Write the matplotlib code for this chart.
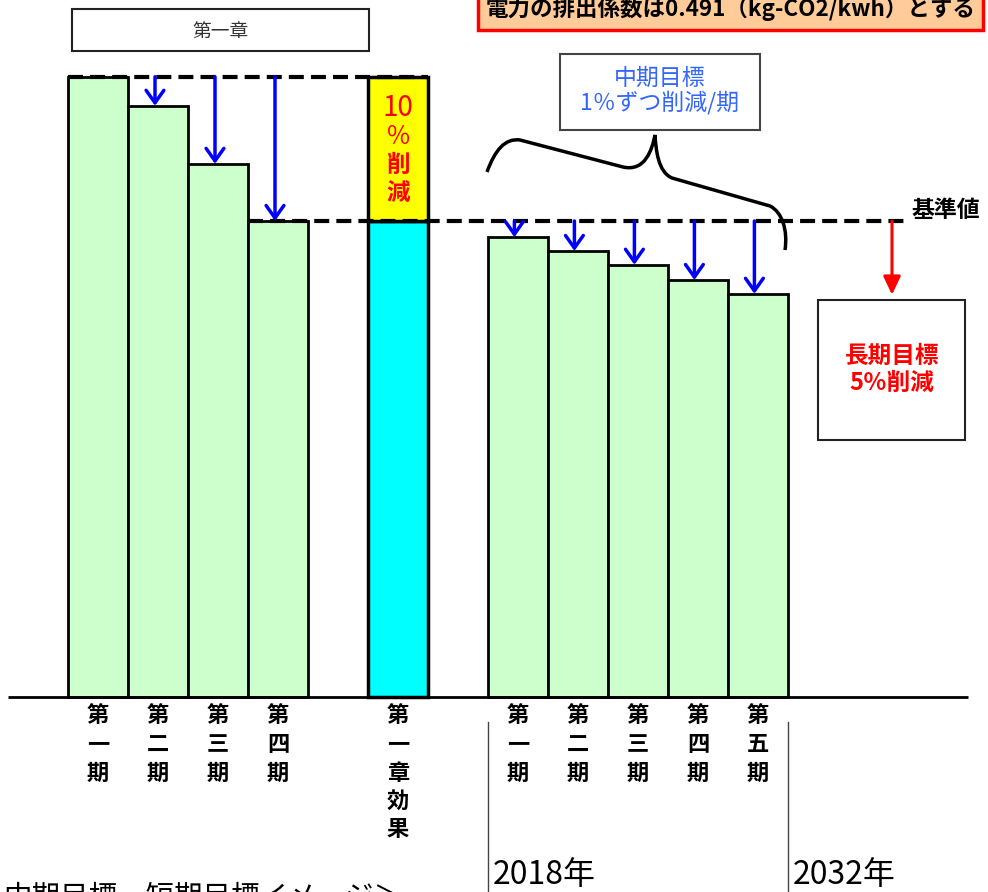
import matplotlib
matplotlib.use("Agg")
import matplotlib.pyplot as plt
from matplotlib.patches import Rectangle, PathPatch
from matplotlib.path import Path

plt.rcParams['font.family'] = ['Noto Sans CJK JP', 'DejaVu Sans']

# ---------------- data ----------------
phase1_labels = ["第一期", "第二期", "第三期", "第四期"]
phase1_values = [130.3, 124.2, 112.0, 100.0]
effect_label = "第一章効果"
effect_base = 100.0           # 基準値
effect_reduction = 30.3       # 10%削減 part (yellow)
phase2_labels = ["第一期", "第二期", "第三期", "第四期", "第五期"]
phase2_values = [96.6, 93.7, 90.8, 87.6, 84.7]
long_term_target = 84.5
phase1_pos = [0, 1, 2, 3]
effect_pos = 5
phase2_pos = [7, 8, 9, 10, 11]
year_labels = ["2018年", "2032年"]

# ---------------- figure ----------------
W, H = 988, 892
fig = plt.figure(figsize=(W / 100, H / 100), dpi=100)
ax = fig.add_axes([0, 0, 1, 1])
ax.set_axis_off()

def X(px):
    return (px - 98) / 60.0

def Y(py):
    return (697 - py) / 4.76

ax.set_xlim(X(0), X(W))
ax.set_ylim(Y(H), Y(0))

green = '#CCFFCC'
blue = '#0000FF'

# bars
ax.bar(phase1_pos, phase1_values, width=1, color=green, edgecolor='black', linewidth=2, zorder=2)
ax.bar(phase2_pos, phase2_values, width=1, color=green, edgecolor='black', linewidth=2, zorder=2)
ax.bar([effect_pos], [effect_base], width=1, color='#00FFFF', edgecolor='black', linewidth=2.5, zorder=2)
ax.bar([effect_pos], [effect_reduction], bottom=[effect_base], width=1, color='#FFFF00',
       edgecolor='black', linewidth=2.5, zorder=2)

# baseline axis
ax.plot([X(8), X(968)], [0, 0], color='black', lw=2, zorder=3, solid_capstyle='butt')

# dashed reference lines
ax.plot([phase1_pos[0] - 0.5, effect_pos + 0.5], [phase1_values[0]] * 2, color='black', lw=3,
        dashes=(3.6, 1.7), zorder=4)
ax.plot([phase1_pos[3] - 0.5, X(907)], [effect_base] * 2, color='black', lw=3,
        dashes=(3.6, 1.7), zorder=4)

# blue arrows
def down_arrow(x, y0, y1, color=blue, style="->,head_length=0.45,head_width=0.32", lw=2.5):
    ax.annotate("", xy=(x, y1), xytext=(x, y0),
                arrowprops=dict(arrowstyle=style, color=color, lw=lw, shrinkA=0, shrinkB=0,
                                mutation_scale=20), zorder=5)

for p, v in zip(phase1_pos[1:], phase1_values[1:]):
    down_arrow(p - 0.05, phase1_values[0], v)
for p, v in zip(phase2_pos, phase2_values):
    down_arrow(p - 0.06, effect_base, v)

# red arrow to long-term target
down_arrow(X(892), effect_base, long_term_target, color='#FF0000',
           style="-|>,head_length=0.55,head_width=0.26", lw=2.2)

# category labels (vertical)
def vlabel(x, text, py0=716, step=28.5):
    for i, ch in enumerate(text):
        ax.text(x, Y(py0 + i * step), ch, ha='center', va='center', fontsize=16,
                fontweight='bold', color='black')

for p, lab in zip(phase1_pos, phase1_labels):
    vlabel(p, lab)
vlabel(effect_pos, effect_label)
for p, lab in zip(phase2_pos, phase2_labels):
    vlabel(p, lab)

# year separators
for xv, lab in zip([phase2_pos[0] - 0.5, phase2_pos[-1] + 0.5], year_labels):
    ax.plot([xv, xv], [Y(722), Y(H)], color='#444444', lw=1)
    ax.text(xv + X(493) - X(488), Y(875), lab, ha='left', va='center', fontsize=23, color='black')

# bottom-left caption (cut off at the bottom as in the source)
ax.text(X(3), Y(905), "中期目標・短期目標イメージ＞", ha='left', va='baseline', fontsize=20.5, color='black')

# 第一章 box
ax.add_patch(Rectangle((X(72), Y(51)), X(369) - X(72), Y(9) - Y(51), facecolor='white',
                       edgecolor='#222222', lw=1.5, zorder=3))
ax.text((X(72) + X(369)) / 2, Y(31), "第一章", ha='center', va='center', fontsize=13.5, color='#333333')

# top-right note box
ax.add_patch(Rectangle((X(478), Y(30)), X(983) - X(478), Y(-30) - Y(30), facecolor='#FFCC99',
                       edgecolor='#FF0000', lw=2.5, zorder=3, clip_on=True))
ax.text((X(478) + X(983)) / 2, Y(9), "電力の排出係数は0.491（kg-CO2/kwh）とする", ha='center',
        va='center', fontsize=16.2, fontweight='bold', color='black', zorder=4)

# yellow box text
for py, s, fs, fw in zip([108, 137, 165, 193], ["10", "％", "削", "減"], [20, 18, 17, 17],
                         ['normal', 'normal', 'bold', 'bold']):
    ax.text(effect_pos, Y(py), s, ha='center', va='center', fontsize=fs, color='#FF0000',
            fontweight=fw, zorder=5)

# mid-term box
ax.add_patch(Rectangle((X(560), Y(130)), X(760) - X(560), Y(54) - Y(130), facecolor='white',
                       edgecolor='#444444', lw=1.5, zorder=3))
ax.text(X(660), Y(78), "中期目標", ha='center', va='center', fontsize=16.5, color='#3366FF', zorder=4)
ax.text(X(660), Y(103), "1％ずつ削減/期", ha='center', va='center', fontsize=16.5, color='#3366FF', zorder=4)

# long-term box
ax.add_patch(Rectangle((X(818), Y(440)), X(965) - X(818), Y(300) - Y(440), facecolor='white',
                       edgecolor='#222222', lw=1.5, zorder=3))
ax.text(X(892), Y(356), "長期目標", ha='center', va='center', fontsize=17, color='#FF0000',
        fontweight='bold', zorder=4)
ax.text(X(892), Y(383), "5％削減", ha='center', va='center', fontsize=17, color='#FF0000',
        fontweight='bold', zorder=4)

# 基準値 label
ax.text(X(911), Y(210), "基準値", ha='left', va='center', fontsize=16.5, fontweight='bold', color='black')

# curly brace
pts_px = [(487, 172),
          (495, 150), (505, 138), (520, 140),
          (623, 167),
          (645, 172), (652, 150), (655, 135),
          (656, 150), (658, 172), (672, 178),
          (770, 206),
          (782, 212), (788, 230), (785, 250)]
codes = [Path.MOVETO,
         Path.CURVE4, Path.CURVE4, Path.CURVE4,
         Path.LINETO,
         Path.CURVE4, Path.CURVE4, Path.CURVE4,
         Path.CURVE4, Path.CURVE4, Path.CURVE4,
         Path.LINETO,
         Path.CURVE4, Path.CURVE4, Path.CURVE4]
verts = [(X(a), Y(b)) for a, b in pts_px]
ax.add_patch(PathPatch(Path(verts, codes), facecolor='none', edgecolor='black', lw=2.5, zorder=4))

fig.savefig("out.png", dpi=100)
